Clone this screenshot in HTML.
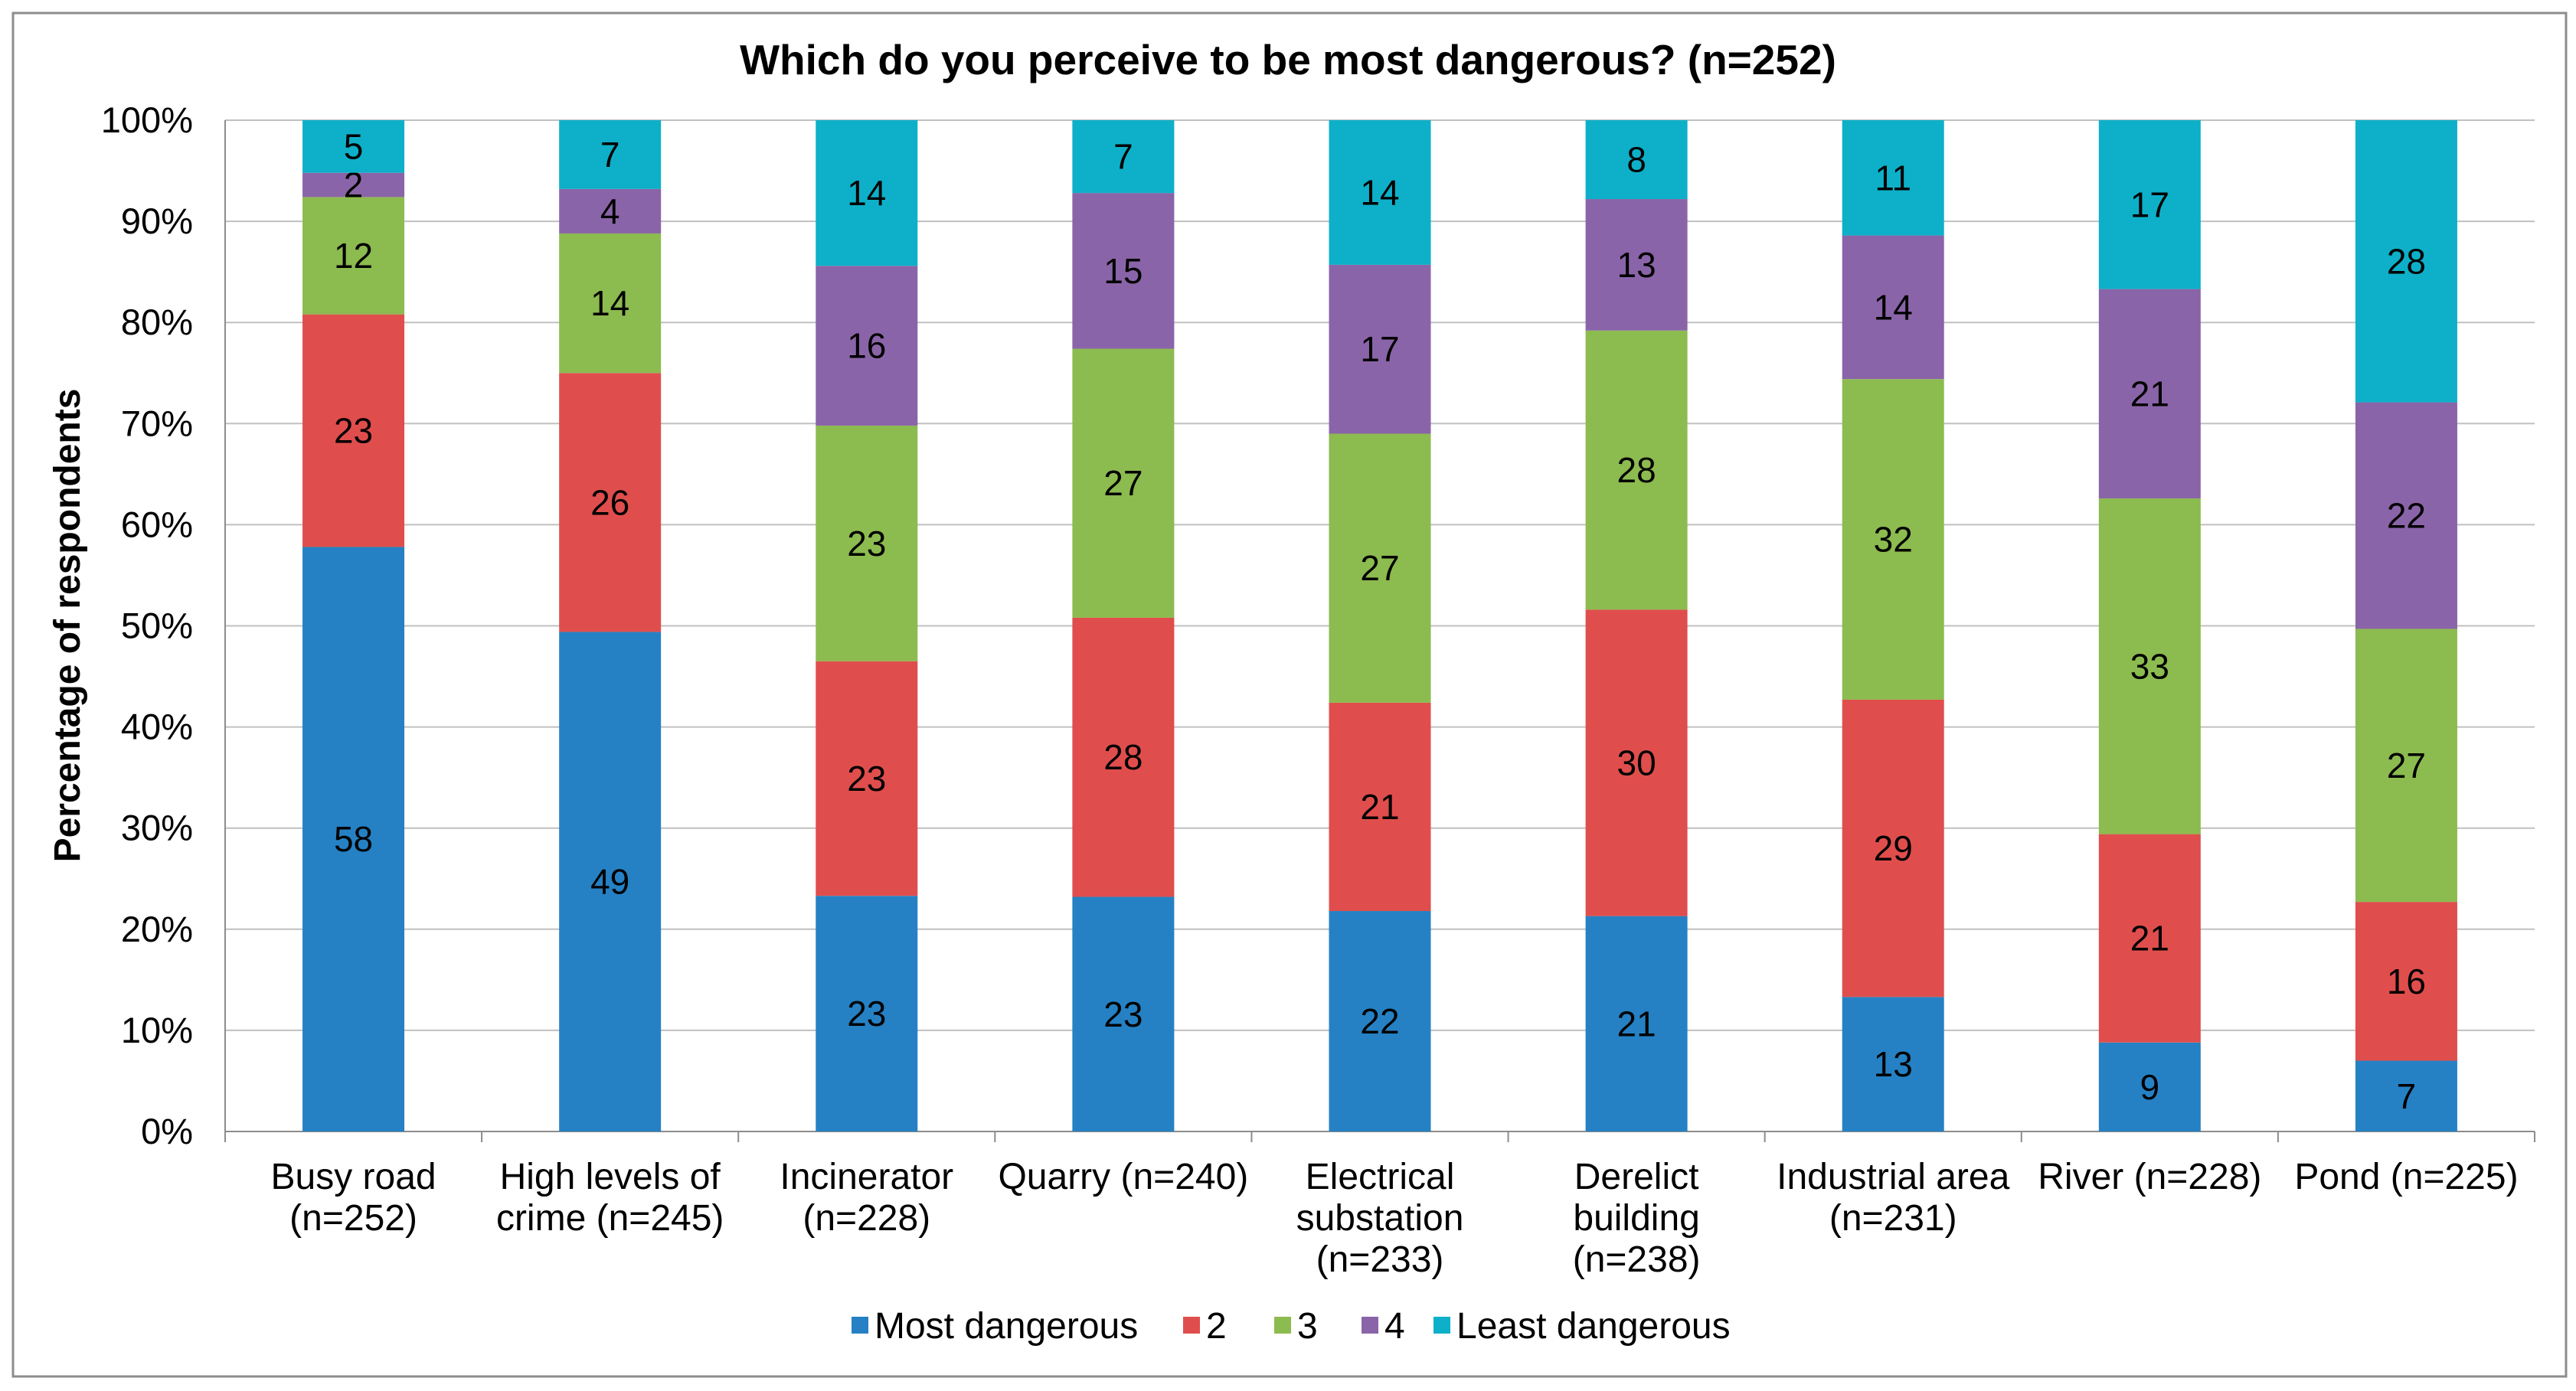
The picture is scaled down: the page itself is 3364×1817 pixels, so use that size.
<!DOCTYPE html>
<html><head><meta charset="utf-8"><style>
html,body{margin:0;padding:0;background:#fff;}
svg{display:block;font-family:"Liberation Sans",Arial,sans-serif;}
</style></head><body>
<svg id="chart" width="3364" height="1817" viewBox="0 0 3364 1817" xmlns="http://www.w3.org/2000/svg">
<rect x="17" y="17" width="3334" height="1781" fill="#fff" stroke="#8c8c8c" stroke-width="3"/>
<text x="1682" y="97" text-anchor="middle" font-size="55" font-weight="bold" fill="#000">Which do you perceive to be most dangerous? (n=252)</text>
<text transform="translate(104,817) rotate(-90)" text-anchor="middle" font-size="48" font-weight="bold" fill="#000">Percentage of respondents</text>
<g id="grid"></g><g id="bars"></g><g id="axes"></g><g id="legend"></g>
</svg>
<script>
const categories = [["Busy road","(n=252)"],["High levels of","crime (n=245)"],["Incinerator","(n=228)"],["Quarry (n=240)"],["Electrical","substation","(n=233)"],["Derelict","building","(n=238)"],["Industrial area","(n=231)"],["River (n=228)"],["Pond (n=225)"]];
const seriesNames = ["Most dangerous","2","3","4","Least dangerous"];
const mostDangerous = [57.8,49.4,23.3,23.2,21.8,21.3,13.3,8.8,7.0];
const rank2 = [23.0,25.6,23.2,27.6,20.6,30.3,29.4,20.6,15.7];
const rank3 = [11.6,13.8,23.3,26.6,26.6,27.6,31.7,33.2,27.0];
const rank4 = [2.4,4.4,15.8,15.4,16.7,13.0,14.2,20.7,22.4];
const leastDangerous = [5.2,6.8,14.4,7.2,14.3,7.8,11.4,16.7,27.9];
const yTicks = [0,10,20,30,40,50,60,70,80,90,100];
const colors = ["#2581c4","#df4e4c","#8cbb4f","#8a64a8","#0db0c8"];
const series = [mostDangerous,rank2,rank3,rank4,leastDangerous];
const NS="http://www.w3.org/2000/svg";
const X0=294,X1=3310,Y0=1478,Y1=157;
const y=v=>Y0-(v/100)*(Y0-Y1);
const step=(X1-X0)/categories.length;
const xc=i=>X0+step*(i+0.5);
const BW=133;
function mk(tag,attrs,parent){const e=document.createElementNS(NS,tag);for(const k in attrs)e.setAttribute(k,attrs[k]);parent.appendChild(e);return e;}
const grid=document.getElementById('grid'),bars=document.getElementById('bars'),axes=document.getElementById('axes'),legend=document.getElementById('legend');
yTicks.forEach(t=>{
  const l=mk('line',{x1:X0,x2:X1,y1:y(t),y2:y(t),stroke:t===0?'#8c8c8c':'#c0c0c0','stroke-width':2},grid);
  
  
  const tx=mk('text',{x:252,y:y(t)+16,'text-anchor':'end','font-size':47,fill:'#000'},axes);
  tx.textContent=t+'%';
  
  
});
const ax=mk('line',{x1:X0,x2:X0,y1:Y1,y2:Y0,stroke:'#8c8c8c','stroke-width':2},axes);


for(let i=0;i<=categories.length;i++){
  const tk=mk('line',{x1:X0+step*i,x2:X0+step*i,y1:Y0,y2:Y0+14,stroke:'#8c8c8c','stroke-width':2},axes);
  
  
}
categories.forEach((c,i)=>{
  let cum=0;
  series.forEach((s,j)=>{
    const v=s[i];
    const r=mk('rect',{x:xc(i)-BW/2,y:y(cum+v),width:BW,height:y(cum)-y(cum+v),fill:colors[j]},bars);
    
    
    const t=mk('text',{x:xc(i),y:(y(cum)+y(cum+v))/2+16,'text-anchor':'middle','font-size':46,fill:'#000'},bars);
    t.textContent=Math.round(v);
    
    
    cum+=v;
  });
  c.forEach((line,k)=>{
    const t=mk('text',{x:xc(i),y:1553+k*54,'text-anchor':'middle','font-size':48,fill:'#000'},axes);
    t.textContent=line;
    
    
  });
});
const lx=[1112,1545,1664,1778,1872];
seriesNames.forEach((n,j)=>{
  const m=mk('rect',{x:lx[j],y:1720,width:22,height:22,fill:colors[j]},legend);
  
  
  const t=mk('text',{x:lx[j]+30,y:1748,'font-size':48,fill:'#000'},legend);
  t.textContent=n;
  
  
});
</script>
</body></html>
